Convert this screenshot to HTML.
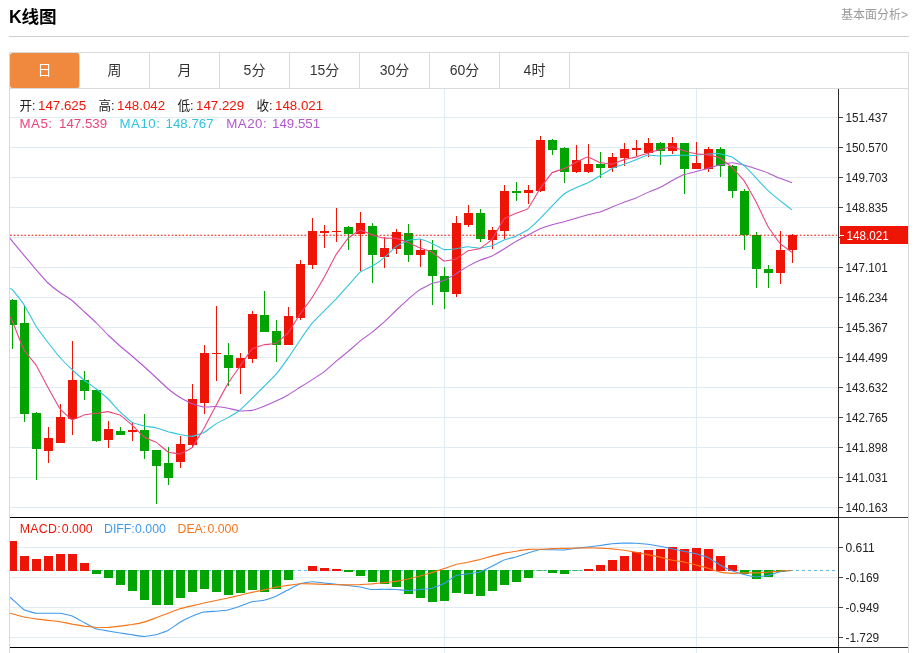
<!DOCTYPE html>
<html lang="zh-CN"><head><meta charset="utf-8"><title>K线图</title>
<style>
html,body{margin:0;padding:0;background:#fff}
body{width:920px;height:653px;position:relative;overflow:hidden;font-family:"Liberation Sans","Noto Sans CJK SC",sans-serif;color:#222}
.title{position:absolute;left:9px;top:4.5px;font-size:17.6px;line-height:24px;font-weight:bold;color:#000;letter-spacing:-0.1px}
.more{position:absolute;right:12px;top:6px;font-size:12px;line-height:18px;color:#999}
.hr{position:absolute;left:9px;top:36px;width:900px;height:1px;background:#cfcfcf}
.box{position:absolute;left:9px;top:52px;width:898px;height:620px;border:1px solid #dadada;border-bottom:none;box-sizing:content-box}
.tabs{position:absolute;left:10px;top:53px;width:898px;height:35px;border-bottom:1px solid #dadada;display:flex}
.tab{width:69px;height:35px;border-right:1px solid #dadada;text-align:center;font-size:14px;line-height:35.6px;color:#333}
.tab.on{background:#f0883e;color:#fff;border-radius:2.5px}
.info{position:absolute;left:19.5px;white-space:nowrap;font-size:13.3px;line-height:16px}
.info span{display:inline-block}
.info.abs span{position:absolute;top:0}
.info.m{font-size:12.3px}
.cj{font-size:12.6px}
.r{color:#ee1506}
</style></head><body>
<div class="title">K线图</div>
<div class="more">基本面分析&gt;</div>
<div class="hr"></div>
<div class="box"></div>
<div class="tabs"><div class="tab on">日</div><div class="tab">周</div><div class="tab">月</div><div class="tab">5分</div><div class="tab">15分</div><div class="tab">30分</div><div class="tab">60分</div><div class="tab">4时</div></div>
<svg width="920" height="653" viewBox="0 0 920 653" style="position:absolute;left:0;top:0">
<defs><clipPath id="cp"><rect x="10" y="89" width="828" height="564"/></clipPath></defs>
<g shape-rendering="crispEdges"><rect x="10" y="117" width="828" height="1" fill="#e1ebf2"/><rect x="10" y="147" width="828" height="1" fill="#e1ebf2"/><rect x="10" y="177" width="828" height="1" fill="#e1ebf2"/><rect x="10" y="207" width="828" height="1" fill="#e1ebf2"/><rect x="10" y="237" width="828" height="1" fill="#e1ebf2"/><rect x="10" y="267" width="828" height="1" fill="#e1ebf2"/><rect x="10" y="297" width="828" height="1" fill="#e1ebf2"/><rect x="10" y="327" width="828" height="1" fill="#e1ebf2"/><rect x="10" y="357" width="828" height="1" fill="#e1ebf2"/><rect x="10" y="387" width="828" height="1" fill="#e1ebf2"/><rect x="10" y="417" width="828" height="1" fill="#e1ebf2"/><rect x="10" y="447" width="828" height="1" fill="#e1ebf2"/><rect x="10" y="477" width="828" height="1" fill="#e1ebf2"/><rect x="10" y="507" width="828" height="1" fill="#e1ebf2"/><rect x="10" y="547" width="828" height="1" fill="#e1ebf2"/><rect x="10" y="577" width="828" height="1" fill="#e1ebf2"/><rect x="10" y="607" width="828" height="1" fill="#e1ebf2"/><rect x="10" y="637" width="828" height="1" fill="#e1ebf2"/><rect x="444" y="89" width="1" height="564" fill="#e1ebf2"/><rect x="696" y="89" width="1" height="564" fill="#e1ebf2"/><rect x="9" y="89" width="1" height="564" fill="#dadada"/></g>
<g shape-rendering="crispEdges" clip-path="url(#cp)"><rect x="12" y="299" width="1" height="50" fill="#02a402"/><rect x="8" y="300" width="9" height="25" fill="#02a402"/><rect x="24" y="305" width="1" height="117" fill="#02a402"/><rect x="20" y="323" width="9" height="91" fill="#02a402"/><rect x="36" y="412" width="1" height="68" fill="#02a402"/><rect x="32" y="413" width="9" height="36" fill="#02a402"/><rect x="48" y="427" width="1" height="36" fill="#ee1506"/><rect x="44" y="438" width="9" height="13" fill="#ee1506"/><rect x="60" y="404" width="1" height="39" fill="#ee1506"/><rect x="56" y="417" width="9" height="26" fill="#ee1506"/><rect x="72" y="341" width="1" height="94" fill="#ee1506"/><rect x="68" y="380" width="9" height="39" fill="#ee1506"/><rect x="84" y="371" width="1" height="29" fill="#02a402"/><rect x="80" y="380" width="9" height="11" fill="#02a402"/><rect x="96" y="390" width="1" height="52" fill="#02a402"/><rect x="92" y="390" width="9" height="51" fill="#02a402"/><rect x="108" y="421" width="1" height="27" fill="#ee1506"/><rect x="104" y="429" width="9" height="11" fill="#ee1506"/><rect x="120" y="427" width="1" height="8" fill="#02a402"/><rect x="116" y="431" width="9" height="4" fill="#02a402"/><rect x="132" y="422" width="1" height="19" fill="#ee1506"/><rect x="128" y="430" width="9" height="2" fill="#ee1506"/><rect x="144" y="414" width="1" height="45" fill="#02a402"/><rect x="140" y="430" width="9" height="21" fill="#02a402"/><rect x="156" y="450" width="1" height="54" fill="#02a402"/><rect x="152" y="450" width="9" height="16" fill="#02a402"/><rect x="168" y="447" width="1" height="38" fill="#02a402"/><rect x="164" y="463" width="9" height="15" fill="#02a402"/><rect x="180" y="436" width="1" height="32" fill="#ee1506"/><rect x="176" y="444" width="9" height="18" fill="#ee1506"/><rect x="192" y="384" width="1" height="64" fill="#ee1506"/><rect x="188" y="399" width="9" height="46" fill="#ee1506"/><rect x="204" y="345" width="1" height="69" fill="#ee1506"/><rect x="200" y="353" width="9" height="50" fill="#ee1506"/><rect x="216" y="306" width="1" height="75" fill="#ee1506"/><rect x="212" y="353" width="9" height="1" fill="#ee1506"/><rect x="228" y="343" width="1" height="43" fill="#02a402"/><rect x="224" y="355" width="9" height="13" fill="#02a402"/><rect x="240" y="353" width="1" height="41" fill="#ee1506"/><rect x="236" y="358" width="9" height="10" fill="#ee1506"/><rect x="252" y="311" width="1" height="52" fill="#ee1506"/><rect x="248" y="314" width="9" height="45" fill="#ee1506"/><rect x="264" y="291" width="1" height="41" fill="#02a402"/><rect x="260" y="315" width="9" height="17" fill="#02a402"/><rect x="276" y="320" width="1" height="42" fill="#02a402"/><rect x="272" y="331" width="9" height="14" fill="#02a402"/><rect x="288" y="307" width="1" height="38" fill="#ee1506"/><rect x="284" y="316" width="9" height="29" fill="#ee1506"/><rect x="300" y="260" width="1" height="60" fill="#ee1506"/><rect x="296" y="264" width="9" height="54" fill="#ee1506"/><rect x="312" y="218" width="1" height="51" fill="#ee1506"/><rect x="308" y="231" width="9" height="34" fill="#ee1506"/><rect x="324" y="225" width="1" height="23" fill="#ee1506"/><rect x="320" y="231" width="9" height="2" fill="#ee1506"/><rect x="336" y="208" width="1" height="34" fill="#ee1506"/><rect x="332" y="231" width="9" height="1" fill="#ee1506"/><rect x="348" y="226" width="1" height="24" fill="#02a402"/><rect x="344" y="227" width="9" height="7" fill="#02a402"/><rect x="360" y="212" width="1" height="59" fill="#ee1506"/><rect x="356" y="223" width="9" height="11" fill="#ee1506"/><rect x="372" y="223" width="1" height="60" fill="#02a402"/><rect x="368" y="226" width="9" height="29" fill="#02a402"/><rect x="384" y="237" width="1" height="31" fill="#ee1506"/><rect x="380" y="248" width="9" height="9" fill="#ee1506"/><rect x="396" y="229" width="1" height="25" fill="#ee1506"/><rect x="392" y="232" width="9" height="17" fill="#ee1506"/><rect x="408" y="224" width="1" height="38" fill="#02a402"/><rect x="404" y="233" width="9" height="22" fill="#02a402"/><rect x="420" y="239" width="1" height="28" fill="#ee1506"/><rect x="416" y="250" width="9" height="5" fill="#ee1506"/><rect x="432" y="240" width="1" height="65" fill="#02a402"/><rect x="428" y="250" width="9" height="26" fill="#02a402"/><rect x="444" y="267" width="1" height="42" fill="#02a402"/><rect x="440" y="276" width="9" height="16" fill="#02a402"/><rect x="456" y="216" width="1" height="81" fill="#ee1506"/><rect x="452" y="223" width="9" height="71" fill="#ee1506"/><rect x="468" y="205" width="1" height="22" fill="#ee1506"/><rect x="464" y="213" width="9" height="12" fill="#ee1506"/><rect x="480" y="209" width="1" height="33" fill="#02a402"/><rect x="476" y="213" width="9" height="26" fill="#02a402"/><rect x="492" y="227" width="1" height="22" fill="#ee1506"/><rect x="488" y="230" width="9" height="10" fill="#ee1506"/><rect x="504" y="185" width="1" height="54" fill="#ee1506"/><rect x="500" y="191" width="9" height="40" fill="#ee1506"/><rect x="516" y="182" width="1" height="19" fill="#02a402"/><rect x="512" y="191" width="9" height="2" fill="#02a402"/><rect x="528" y="185" width="1" height="19" fill="#ee1506"/><rect x="524" y="190" width="9" height="3" fill="#ee1506"/><rect x="540" y="136" width="1" height="56" fill="#ee1506"/><rect x="536" y="140" width="9" height="51" fill="#ee1506"/><rect x="552" y="139" width="1" height="16" fill="#02a402"/><rect x="548" y="140" width="9" height="10" fill="#02a402"/><rect x="564" y="147" width="1" height="36" fill="#02a402"/><rect x="560" y="148" width="9" height="24" fill="#02a402"/><rect x="576" y="145" width="1" height="28" fill="#ee1506"/><rect x="572" y="160" width="9" height="12" fill="#ee1506"/><rect x="588" y="144" width="1" height="29" fill="#ee1506"/><rect x="584" y="164" width="9" height="8" fill="#ee1506"/><rect x="600" y="152" width="1" height="26" fill="#02a402"/><rect x="596" y="164" width="9" height="4" fill="#02a402"/><rect x="612" y="153" width="1" height="19" fill="#ee1506"/><rect x="608" y="157" width="9" height="11" fill="#ee1506"/><rect x="624" y="143" width="1" height="23" fill="#ee1506"/><rect x="620" y="149" width="9" height="9" fill="#ee1506"/><rect x="636" y="140" width="1" height="16" fill="#ee1506"/><rect x="632" y="148" width="9" height="2" fill="#ee1506"/><rect x="648" y="138" width="1" height="19" fill="#ee1506"/><rect x="644" y="143" width="9" height="10" fill="#ee1506"/><rect x="660" y="142" width="1" height="23" fill="#02a402"/><rect x="656" y="143" width="9" height="8" fill="#02a402"/><rect x="672" y="137" width="1" height="17" fill="#ee1506"/><rect x="668" y="143" width="9" height="8" fill="#ee1506"/><rect x="684" y="143" width="1" height="51" fill="#02a402"/><rect x="680" y="143" width="9" height="26" fill="#02a402"/><rect x="696" y="142" width="1" height="27" fill="#ee1506"/><rect x="692" y="163" width="9" height="6" fill="#ee1506"/><rect x="708" y="147" width="1" height="25" fill="#ee1506"/><rect x="704" y="149" width="9" height="20" fill="#ee1506"/><rect x="720" y="147" width="1" height="30" fill="#02a402"/><rect x="716" y="149" width="9" height="17" fill="#02a402"/><rect x="732" y="165" width="1" height="33" fill="#02a402"/><rect x="728" y="166" width="9" height="25" fill="#02a402"/><rect x="744" y="189" width="1" height="61" fill="#02a402"/><rect x="740" y="191" width="9" height="44" fill="#02a402"/><rect x="756" y="232" width="1" height="56" fill="#02a402"/><rect x="752" y="235" width="9" height="34" fill="#02a402"/><rect x="768" y="265" width="1" height="23" fill="#02a402"/><rect x="764" y="269" width="9" height="4" fill="#02a402"/><rect x="780" y="231" width="1" height="53" fill="#ee1506"/><rect x="776" y="250" width="9" height="23" fill="#ee1506"/><rect x="792" y="234" width="1" height="29" fill="#ee1506"/><rect x="788" y="235" width="9" height="15" fill="#ee1506"/></g>
<line x1="10" y1="235.2" x2="837" y2="235.2" stroke="#ee1506" stroke-width="1.15" stroke-dasharray="1.8 1.79"/>
<g clip-path="url(#cp)">
<path d="M0.00 226.30C0.40 226.78 11.20 239.83 12.00 240.80C12.80 241.77 23.20 254.34 24.00 255.30C24.80 256.26 35.20 268.68 36.00 269.60C36.80 270.52 47.20 282.24 48.00 283.00C48.80 283.76 59.20 291.92 60.00 292.50C60.80 293.08 71.20 299.87 72.00 300.50C72.80 301.13 83.20 310.77 84.00 311.50C84.80 312.23 95.20 321.72 96.00 322.50C96.80 323.28 107.20 334.22 108.00 335.00C108.80 335.78 119.20 345.30 120.00 346.00C120.80 346.70 131.20 355.32 132.00 356.00C132.80 356.68 143.20 365.78 144.00 366.50C144.80 367.22 155.20 376.76 156.00 377.50C156.80 378.24 167.20 388.08 168.00 388.75C168.80 389.42 179.20 397.00 180.00 397.50C180.80 398.00 191.20 403.43 192.00 403.75C192.80 404.07 203.20 406.91 204.00 407.00C204.80 407.09 215.20 406.46 216.00 406.50C216.80 406.54 227.20 408.10 228.00 408.25C228.80 408.40 239.20 410.88 240.00 410.96C240.80 411.03 251.20 410.55 252.00 410.39C252.80 410.24 263.20 406.59 264.00 406.28C264.80 405.97 275.20 401.44 276.00 401.07C276.80 400.69 287.20 395.43 288.00 394.97C288.80 394.51 299.20 387.83 300.00 387.33C300.80 386.82 311.20 380.39 312.00 379.88C312.80 379.36 323.20 372.53 324.00 371.91C324.80 371.30 335.20 362.11 336.00 361.44C336.80 360.76 347.20 352.32 348.00 351.64C348.80 350.96 359.20 341.73 360.00 341.09C360.80 340.44 371.20 332.94 372.00 332.31C372.80 331.68 383.20 322.90 384.00 322.18C384.80 321.45 395.20 311.25 396.00 310.49C396.80 309.73 407.20 300.00 408.00 299.30C408.80 298.60 419.20 290.12 420.00 289.59C420.80 289.06 431.20 283.74 432.00 283.44C432.80 283.13 443.20 280.69 444.00 280.38C444.80 280.06 455.20 274.35 456.00 273.88C456.80 273.40 467.20 266.61 468.00 266.15C468.80 265.69 479.20 260.51 480.00 260.18C480.80 259.84 491.20 256.37 492.00 256.00C492.80 255.63 503.20 249.45 504.00 248.96C504.80 248.47 515.20 241.84 516.00 241.38C516.80 240.91 527.20 235.49 528.00 235.07C528.80 234.66 539.20 229.19 540.00 228.85C540.80 228.51 551.20 225.00 552.00 224.76C552.80 224.53 563.20 221.99 564.00 221.78C564.80 221.56 575.20 218.48 576.00 218.25C576.80 218.02 587.20 214.97 588.00 214.76C588.80 214.55 599.20 212.22 600.00 211.97C600.80 211.71 611.20 207.43 612.00 207.11C612.80 206.78 623.20 202.46 624.00 202.16C624.80 201.85 635.20 198.27 636.00 197.94C636.80 197.62 647.20 192.73 648.00 192.38C648.80 192.03 659.20 187.78 660.00 187.39C660.80 187.00 671.20 181.18 672.00 180.75C672.80 180.33 683.20 174.90 684.00 174.60C684.80 174.29 695.20 171.80 696.00 171.60C696.80 171.39 707.20 168.63 708.00 168.40C708.80 168.17 719.20 164.94 720.00 164.75C720.80 164.56 731.20 162.75 732.00 162.76C732.80 162.77 743.20 164.76 744.00 164.96C744.80 165.16 755.20 168.47 756.00 168.73C756.80 169.00 767.20 172.56 768.00 172.88C768.80 173.21 779.20 178.05 780.00 178.37C780.80 178.70 791.60 182.51 792.00 182.66" fill="none" stroke="#b257cf" stroke-width="1.08" stroke-linejoin="round"/>
<path d="M0.00 287.30C0.40 287.36 11.20 288.62 12.00 289.20C12.80 289.78 23.20 303.46 24.00 304.70C24.80 305.94 35.20 324.99 36.00 326.25C36.80 327.51 47.20 341.46 48.00 342.50C48.80 343.54 59.20 356.60 60.00 357.50C60.80 358.40 71.20 368.75 72.00 369.50C72.80 370.25 83.20 379.36 84.00 380.00C84.80 380.64 95.20 388.12 96.00 388.75C96.80 389.38 107.20 397.98 108.00 398.75C108.80 399.52 119.20 411.10 120.00 411.89C120.80 412.67 131.20 421.91 132.00 422.39C132.80 422.86 143.20 425.88 144.00 426.06C144.80 426.24 155.20 427.55 156.00 427.74C156.80 427.93 167.20 431.54 168.00 431.76C168.80 431.98 179.20 434.33 180.00 434.48C180.80 434.63 191.20 436.41 192.00 436.35C192.80 436.29 203.20 433.02 204.00 432.60C204.80 432.18 215.20 424.35 216.00 423.85C216.80 423.35 227.20 418.11 228.00 417.65C228.80 417.19 239.20 410.67 240.00 410.02C240.80 409.38 251.20 399.18 252.00 398.40C252.80 397.62 263.20 387.30 264.00 386.50C264.80 385.70 275.20 375.34 276.00 374.40C276.80 373.46 287.20 359.32 288.00 358.18C288.80 357.03 299.20 341.33 300.00 340.18C300.80 339.02 311.20 324.36 312.00 323.40C312.80 322.44 323.20 312.04 324.00 311.23C324.80 310.41 335.20 299.88 336.00 299.02C336.80 298.17 347.20 286.53 348.00 285.63C348.80 284.74 359.20 272.80 360.00 272.15C360.80 271.50 371.20 266.70 372.00 266.23C372.80 265.75 383.20 258.50 384.00 257.85C384.80 257.20 395.20 247.16 396.00 246.57C396.80 245.99 407.20 240.68 408.00 240.43C408.80 240.17 419.20 238.90 420.00 239.00C420.80 239.10 431.20 243.12 432.00 243.47C432.80 243.83 443.20 249.35 444.00 249.53C444.80 249.70 455.20 248.82 456.00 248.72C456.80 248.63 467.20 246.68 468.00 246.67C468.80 246.65 479.20 248.23 480.00 248.20C480.80 248.17 491.20 246.05 492.00 245.78C492.80 245.50 503.20 240.39 504.00 240.07C504.80 239.75 515.20 236.52 516.00 236.18C516.80 235.83 527.20 230.31 528.00 229.72C528.80 229.14 539.20 219.49 540.00 218.70C540.80 217.91 551.20 206.87 552.00 206.05C552.80 205.23 563.20 194.63 564.00 194.03C564.80 193.42 575.20 188.15 576.00 187.78C576.80 187.40 587.20 183.25 588.00 182.85C588.80 182.45 599.20 176.22 600.00 175.73C600.80 175.25 611.20 168.82 612.00 168.44C612.80 168.05 623.20 164.53 624.00 164.23C624.80 163.94 635.20 160.02 636.00 159.71C636.80 159.40 647.20 155.16 648.00 155.03C648.80 154.91 659.20 156.07 660.00 156.08C660.80 156.10 671.20 155.49 672.00 155.46C672.80 155.43 683.20 155.17 684.00 155.17C684.80 155.17 695.20 155.46 696.00 155.42C696.80 155.38 707.20 154.00 708.00 153.94C708.80 153.89 719.20 153.66 720.00 153.76C720.80 153.86 731.20 156.69 732.00 157.08C732.80 157.48 743.20 165.00 744.00 165.69C744.80 166.37 755.20 176.92 756.00 177.76C756.80 178.59 767.20 189.97 768.00 190.73C768.80 191.50 779.20 200.02 780.00 200.66C780.80 201.30 791.60 209.55 792.00 209.85" fill="none" stroke="#2fc3df" stroke-width="1.08" stroke-linejoin="round"/>
<path d="M0.00 300.00C0.40 300.68 11.20 318.83 12.00 320.50C12.80 322.17 23.20 348.52 24.00 350.00C24.80 351.48 35.20 363.75 36.00 365.00C36.80 366.25 47.20 386.04 48.00 387.50C48.80 388.96 59.20 407.63 60.00 408.71C60.80 409.79 71.20 419.56 72.00 419.77C72.80 419.98 83.20 415.28 84.00 415.07C84.80 414.86 95.20 413.44 96.00 413.32C96.80 413.20 107.20 411.56 108.00 411.62C108.80 411.68 119.20 414.61 120.00 415.06C120.80 415.51 131.20 424.27 132.00 425.00C132.80 425.73 143.20 436.48 144.00 437.05C144.80 437.62 155.20 441.65 156.00 442.15C156.80 442.64 167.20 451.51 168.00 451.90C168.80 452.29 179.20 454.04 180.00 453.90C180.80 453.76 191.20 448.56 192.00 447.70C192.80 446.84 203.20 429.55 204.00 428.15C204.80 426.75 215.20 407.04 216.00 405.55C216.80 404.06 227.20 384.71 228.00 383.40C228.80 382.09 239.20 367.29 240.00 366.15C240.80 365.01 251.20 349.81 252.00 349.10C252.80 348.39 263.20 345.05 264.00 344.85C264.80 344.66 275.20 343.65 276.00 343.25C276.80 342.85 287.20 333.92 288.00 332.95C288.80 331.98 299.20 315.38 300.00 314.20C300.80 313.02 311.20 298.92 312.00 297.70C312.80 296.48 323.20 279.03 324.00 277.60C324.80 276.17 335.20 256.11 336.00 254.80C336.80 253.49 347.20 239.14 348.00 238.32C348.80 237.50 359.20 230.22 360.00 230.10C360.80 229.98 371.20 234.48 372.00 234.75C372.80 235.02 383.20 237.98 384.00 238.10C384.80 238.22 395.20 238.20 396.00 238.35C396.80 238.50 407.20 242.21 408.00 242.53C408.80 242.85 419.20 247.58 420.00 247.90C420.80 248.22 431.20 251.76 432.00 252.20C432.80 252.63 443.20 260.72 444.00 260.95C444.80 261.18 455.20 259.44 456.00 259.10C456.80 258.76 467.20 251.15 468.00 250.80C468.80 250.45 479.20 248.88 480.00 248.50C480.80 248.12 491.20 240.33 492.00 239.35C492.80 238.37 503.20 220.07 504.00 219.20C504.80 218.33 515.20 213.60 516.00 213.25C516.80 212.90 527.20 209.46 528.00 208.65C528.80 207.84 539.20 190.10 540.00 188.90C540.80 187.70 551.20 173.42 552.00 172.75C552.80 172.08 563.20 169.20 564.00 168.85C564.80 168.50 575.20 162.69 576.00 162.30C576.80 161.91 587.20 157.04 588.00 157.05C588.80 157.06 599.20 162.33 600.00 162.57C600.80 162.81 611.20 164.22 612.00 164.12C612.80 164.02 623.20 159.85 624.00 159.62C624.80 159.39 635.20 157.34 636.00 157.12C636.80 156.90 647.20 153.27 648.00 153.02C648.80 152.77 659.20 149.81 660.00 149.60C660.80 149.39 671.20 146.76 672.00 146.80C672.80 146.84 683.20 150.49 684.00 150.72C684.80 150.95 695.20 153.58 696.00 153.72C696.80 153.86 707.20 154.73 708.00 154.87C708.80 155.01 719.20 157.50 720.00 157.92C720.80 158.34 731.20 166.61 732.00 167.37C732.80 168.13 743.20 179.50 744.00 180.65C744.80 181.80 755.20 200.27 756.00 201.80C756.80 203.33 767.20 225.21 768.00 226.60C768.80 227.99 779.20 242.54 780.00 243.40C780.80 244.26 791.60 252.04 792.00 252.34" fill="none" stroke="#e9457c" stroke-width="1.08" stroke-linejoin="round"/>
</g>
<line x1="10" y1="570.5" x2="836" y2="570.5" stroke="#5bbbe7" stroke-width="1" stroke-dasharray="3 3"/>
<g shape-rendering="crispEdges" clip-path="url(#cp)"><rect x="8" y="541" width="9" height="30" fill="#ee1506"/><rect x="20" y="556" width="9" height="15" fill="#ee1506"/><rect x="32" y="559" width="9" height="12" fill="#ee1506"/><rect x="44" y="556" width="9" height="15" fill="#ee1506"/><rect x="56" y="554" width="9" height="17" fill="#ee1506"/><rect x="68" y="554" width="9" height="17" fill="#ee1506"/><rect x="80" y="563" width="9" height="8" fill="#ee1506"/><rect x="92" y="570" width="9" height="4" fill="#02a402"/><rect x="104" y="570" width="9" height="8" fill="#02a402"/><rect x="116" y="570" width="9" height="15" fill="#02a402"/><rect x="128" y="570" width="9" height="21" fill="#02a402"/><rect x="140" y="570" width="9" height="30" fill="#02a402"/><rect x="152" y="570" width="9" height="35" fill="#02a402"/><rect x="164" y="570" width="9" height="35" fill="#02a402"/><rect x="176" y="570" width="9" height="28" fill="#02a402"/><rect x="188" y="570" width="9" height="22" fill="#02a402"/><rect x="200" y="570" width="9" height="19" fill="#02a402"/><rect x="212" y="570" width="9" height="22" fill="#02a402"/><rect x="224" y="570" width="9" height="25" fill="#02a402"/><rect x="236" y="570" width="9" height="23" fill="#02a402"/><rect x="248" y="570" width="9" height="20" fill="#02a402"/><rect x="260" y="570" width="9" height="22" fill="#02a402"/><rect x="272" y="570" width="9" height="19" fill="#02a402"/><rect x="284" y="570" width="9" height="10" fill="#02a402"/><rect x="308" y="566" width="9" height="5" fill="#ee1506"/><rect x="320" y="568" width="9" height="3" fill="#ee1506"/><rect x="332" y="569" width="9" height="2" fill="#ee1506"/><rect x="344" y="570" width="9" height="2" fill="#02a402"/><rect x="356" y="570" width="9" height="6" fill="#02a402"/><rect x="368" y="570" width="9" height="12" fill="#02a402"/><rect x="380" y="570" width="9" height="14" fill="#02a402"/><rect x="392" y="570" width="9" height="17" fill="#02a402"/><rect x="404" y="570" width="9" height="24" fill="#02a402"/><rect x="416" y="570" width="9" height="28" fill="#02a402"/><rect x="428" y="570" width="9" height="32" fill="#02a402"/><rect x="440" y="570" width="9" height="31" fill="#02a402"/><rect x="452" y="570" width="9" height="23" fill="#02a402"/><rect x="464" y="570" width="9" height="24" fill="#02a402"/><rect x="476" y="570" width="9" height="26" fill="#02a402"/><rect x="488" y="570" width="9" height="21" fill="#02a402"/><rect x="500" y="570" width="9" height="15" fill="#02a402"/><rect x="512" y="570" width="9" height="12" fill="#02a402"/><rect x="524" y="570" width="9" height="8" fill="#02a402"/><rect x="536" y="570" width="9" height="1" fill="#02a402" fill-opacity="0.55"/><rect x="548" y="570" width="9" height="3" fill="#02a402"/><rect x="560" y="570" width="9" height="4" fill="#02a402"/><rect x="572" y="570" width="9" height="1" fill="#02a402" fill-opacity="0.55"/><rect x="584" y="569" width="9" height="2" fill="#ee1506"/><rect x="596" y="565" width="9" height="6" fill="#ee1506"/><rect x="608" y="560" width="9" height="11" fill="#ee1506"/><rect x="620" y="556" width="9" height="15" fill="#ee1506"/><rect x="632" y="552" width="9" height="19" fill="#ee1506"/><rect x="644" y="550" width="9" height="21" fill="#ee1506"/><rect x="656" y="549" width="9" height="22" fill="#ee1506"/><rect x="668" y="547" width="9" height="24" fill="#ee1506"/><rect x="680" y="549" width="9" height="22" fill="#ee1506"/><rect x="692" y="548" width="9" height="23" fill="#ee1506"/><rect x="704" y="549" width="9" height="22" fill="#ee1506"/><rect x="716" y="556" width="9" height="15" fill="#ee1506"/><rect x="728" y="565" width="9" height="6" fill="#ee1506"/><rect x="740" y="570" width="9" height="4" fill="#02a402"/><rect x="752" y="570" width="9" height="9" fill="#02a402"/><rect x="764" y="570" width="9" height="7" fill="#02a402"/><rect x="776" y="570" width="9" height="2" fill="#02a402"/></g>
<g clip-path="url(#cp)">
<path d="M0.00 588.30C0.40 588.66 11.20 598.29 12.00 599.00C12.80 599.71 23.20 609.23 24.00 609.70C24.80 610.18 35.20 613.13 36.00 613.25C36.80 613.37 47.20 613.25 48.00 613.25C48.80 613.25 59.20 613.21 60.00 613.30C60.80 613.39 71.20 615.70 72.00 616.00C72.80 616.30 83.20 621.97 84.00 622.40C84.80 622.83 95.20 628.51 96.00 628.80C96.80 629.09 107.20 630.86 108.00 631.00C108.80 631.14 119.20 632.87 120.00 633.00C120.80 633.13 131.20 634.68 132.00 634.80C132.80 634.92 143.20 636.50 144.00 636.50C144.80 636.50 155.20 635.00 156.00 634.80C156.80 634.60 167.20 630.82 168.00 630.40C168.80 629.98 179.20 622.77 180.00 622.30C180.80 621.83 191.20 616.59 192.00 616.25C192.80 615.91 203.20 612.17 204.00 612.00C204.80 611.83 215.20 611.27 216.00 611.20C216.80 611.13 227.20 610.16 228.00 610.00C228.80 609.84 239.20 606.52 240.00 606.25C240.80 605.98 251.20 601.95 252.00 601.75C252.80 601.55 263.20 600.43 264.00 600.25C264.80 600.07 275.20 596.59 276.00 596.25C276.80 595.91 287.20 590.42 288.00 590.00C288.80 589.58 299.20 584.02 300.00 583.75C300.80 583.48 311.20 581.77 312.00 581.75C312.80 581.73 323.20 582.92 324.00 583.00C324.80 583.08 335.20 584.17 336.00 584.25C336.80 584.33 347.20 585.41 348.00 585.50C348.80 585.59 359.20 586.87 360.00 587.00C360.80 587.13 371.20 589.42 372.00 589.50C372.80 589.58 383.20 589.25 384.00 589.25C384.80 589.25 395.20 589.46 396.00 589.50C396.80 589.54 407.20 590.50 408.00 590.50C408.80 590.50 419.20 589.58 420.00 589.50C420.80 589.42 431.20 588.45 432.00 588.25C432.80 588.05 443.20 584.02 444.00 583.60C444.80 583.18 455.20 575.83 456.00 575.50C456.80 575.17 467.20 573.87 468.00 573.75C468.80 573.63 479.20 572.25 480.00 572.00C480.80 571.75 491.20 566.65 492.00 566.25C492.80 565.85 503.20 560.31 504.00 560.00C504.80 559.69 515.20 557.23 516.00 557.00C516.80 556.77 527.20 553.25 528.00 553.00C528.80 552.75 539.20 549.61 540.00 549.50C540.80 549.39 551.20 549.73 552.00 549.75C552.80 549.77 563.20 550.05 564.00 550.00C564.80 549.95 575.20 548.35 576.00 548.25C576.80 548.15 587.20 547.09 588.00 547.00C588.80 546.91 599.20 545.61 600.00 545.50C600.80 545.39 611.20 543.83 612.00 543.75C612.80 543.67 623.20 543.02 624.00 543.00C624.80 542.98 635.20 543.21 636.00 543.25C636.80 543.29 647.20 544.15 648.00 544.25C648.80 544.35 659.20 546.10 660.00 546.25C660.80 546.40 671.20 548.58 672.00 548.75C672.80 548.92 683.20 551.08 684.00 551.25C684.80 551.42 695.20 553.54 696.00 553.75C696.80 553.96 707.20 557.12 708.00 557.50C708.80 557.88 719.20 564.56 720.00 565.00C720.80 565.44 731.20 570.43 732.00 570.75C732.80 571.07 743.20 574.29 744.00 574.50C744.80 574.71 755.20 576.97 756.00 577.00C756.80 577.03 767.20 575.67 768.00 575.50C768.80 575.33 779.20 571.92 780.00 571.75C780.80 571.58 791.60 570.54 792.00 570.50" fill="none" stroke="#3f99ee" stroke-width="1.1" stroke-linejoin="round"/>
<path d="M0.00 610.42C0.40 610.54 11.20 613.53 12.00 613.75C12.80 613.97 23.20 616.90 24.00 617.08C24.80 617.25 35.20 618.76 36.00 618.88C36.80 618.99 47.20 620.28 48.00 620.38C48.80 620.47 59.20 621.55 60.00 621.67C60.80 621.80 71.20 623.98 72.00 624.12C72.80 624.27 83.20 626.04 84.00 626.15C84.80 626.26 95.20 627.25 96.00 627.30C96.80 627.34 107.20 627.54 108.00 627.50C108.80 627.46 119.20 626.22 120.00 626.12C120.80 626.03 131.20 624.68 132.00 624.55C132.80 624.42 143.20 622.35 144.00 622.12C144.80 621.90 155.20 618.09 156.00 617.80C156.80 617.50 167.20 613.58 168.00 613.27C168.80 612.97 179.20 608.92 180.00 608.67C180.80 608.43 191.20 606.06 192.00 605.88C192.80 605.69 203.20 603.18 204.00 603.00C204.80 602.82 215.20 600.74 216.00 600.58C216.80 600.41 227.20 598.18 228.00 598.00C228.80 597.82 239.20 595.44 240.00 595.25C240.80 595.06 251.20 592.55 252.00 592.38C252.80 592.20 263.20 590.05 264.00 589.88C264.80 589.70 275.20 587.27 276.00 587.12C276.80 586.98 287.20 585.49 288.00 585.38C288.80 585.26 299.20 583.80 300.00 583.75C300.80 583.70 311.20 583.83 312.00 583.85C312.80 583.87 323.20 584.32 324.00 584.35C324.80 584.38 335.20 584.73 336.00 584.75C336.80 584.77 347.20 584.88 348.00 584.88C348.80 584.87 359.20 584.66 360.00 584.62C360.80 584.59 371.20 583.94 372.00 583.88C372.80 583.81 383.20 582.71 384.00 582.62C384.80 582.54 395.20 581.50 396.00 581.38C396.80 581.25 407.20 579.18 408.00 579.00C408.80 578.82 419.20 576.21 420.00 576.00C420.80 575.79 431.20 572.87 432.00 572.62C432.80 572.38 443.20 568.87 444.00 568.60C444.80 568.33 455.20 564.71 456.00 564.50C456.80 564.29 467.20 562.42 468.00 562.25C468.80 562.08 479.20 559.70 480.00 559.50C480.80 559.30 491.20 556.34 492.00 556.12C492.80 555.91 503.20 553.29 504.00 553.12C504.80 552.96 515.20 551.38 516.00 551.25C516.80 551.12 527.20 549.44 528.00 549.38C528.80 549.31 539.20 549.27 540.00 549.25C540.80 549.23 551.20 548.65 552.00 548.62C552.80 548.60 563.20 548.39 564.00 548.38C564.80 548.36 575.20 548.07 576.00 548.05C576.80 548.03 587.20 547.87 588.00 547.88C588.80 547.88 599.20 548.09 600.00 548.12C600.80 548.16 611.20 548.80 612.00 548.88C612.80 548.95 623.20 550.14 624.00 550.25C624.80 550.36 635.20 552.10 636.00 552.25C636.80 552.40 647.20 554.46 648.00 554.62C648.80 554.79 659.20 556.94 660.00 557.12C660.80 557.31 671.20 560.09 672.00 560.25C672.80 560.41 683.20 561.84 684.00 562.00C684.80 562.16 695.20 564.79 696.00 565.00C696.80 565.21 707.20 568.01 708.00 568.25C708.80 568.49 719.20 571.95 720.00 572.12C720.80 572.30 731.20 573.35 732.00 573.38C732.80 573.40 743.20 572.89 744.00 572.88C744.80 572.86 755.20 572.90 756.00 572.88C756.80 572.85 767.20 572.31 768.00 572.25C768.80 572.19 779.20 571.06 780.00 571.00C780.80 570.94 791.60 570.52 792.00 570.50" fill="none" stroke="#f87419" stroke-width="1.1" stroke-linejoin="round"/>
</g>
<g shape-rendering="crispEdges" fill="#111"><rect x="838" y="89" width="1" height="564" fill="#2b2b2b"/><rect x="10" y="517" width="828" height="1" fill="#000"/><rect x="839" y="517" width="69" height="1" fill="#3a3a3a"/><rect x="10" y="647" width="828" height="1" fill="#000"/><rect x="839" y="647" width="69" height="1" fill="#3a3a3a"/><rect x="839" y="117" width="4" height="1" fill="#444"/><rect x="839" y="147" width="4" height="1" fill="#444"/><rect x="839" y="177" width="4" height="1" fill="#444"/><rect x="839" y="207" width="4" height="1" fill="#444"/><rect x="839" y="237" width="4" height="1" fill="#444"/><rect x="839" y="267" width="4" height="1" fill="#444"/><rect x="839" y="297" width="4" height="1" fill="#444"/><rect x="839" y="327" width="4" height="1" fill="#444"/><rect x="839" y="357" width="4" height="1" fill="#444"/><rect x="839" y="387" width="4" height="1" fill="#444"/><rect x="839" y="417" width="4" height="1" fill="#444"/><rect x="839" y="447" width="4" height="1" fill="#444"/><rect x="839" y="477" width="4" height="1" fill="#444"/><rect x="839" y="507" width="4" height="1" fill="#444"/><rect x="839" y="547" width="4" height="1" fill="#444"/><rect x="839" y="577" width="4" height="1" fill="#444"/><rect x="839" y="607" width="4" height="1" fill="#444"/><rect x="839" y="637" width="4" height="1" fill="#444"/></g>
<g font-family="'Liberation Sans', sans-serif" font-size="13.6" fill="#222"><text x="845.5" y="121.6" textLength="42.2" lengthAdjust="spacingAndGlyphs">151.437</text><text x="845.5" y="151.6" textLength="42.2" lengthAdjust="spacingAndGlyphs">150.570</text><text x="845.5" y="181.6" textLength="42.2" lengthAdjust="spacingAndGlyphs">149.703</text><text x="845.5" y="211.6" textLength="42.2" lengthAdjust="spacingAndGlyphs">148.835</text><text x="845.5" y="271.6" textLength="42.2" lengthAdjust="spacingAndGlyphs">147.101</text><text x="845.5" y="301.6" textLength="42.2" lengthAdjust="spacingAndGlyphs">146.234</text><text x="845.5" y="331.6" textLength="42.2" lengthAdjust="spacingAndGlyphs">145.367</text><text x="845.5" y="361.6" textLength="42.2" lengthAdjust="spacingAndGlyphs">144.499</text><text x="845.5" y="391.6" textLength="42.2" lengthAdjust="spacingAndGlyphs">143.632</text><text x="845.5" y="421.6" textLength="42.2" lengthAdjust="spacingAndGlyphs">142.765</text><text x="845.5" y="451.6" textLength="42.2" lengthAdjust="spacingAndGlyphs">141.898</text><text x="845.5" y="481.6" textLength="42.2" lengthAdjust="spacingAndGlyphs">141.031</text><text x="845.5" y="511.6" textLength="42.2" lengthAdjust="spacingAndGlyphs">140.163</text><text x="845.5" y="551.6" textLength="29.3" lengthAdjust="spacingAndGlyphs">0.611</text><text x="845.5" y="581.6" textLength="33.7" lengthAdjust="spacingAndGlyphs">-0.169</text><text x="845.5" y="611.6" textLength="33.7" lengthAdjust="spacingAndGlyphs">-0.949</text><text x="845.5" y="641.6" textLength="33.7" lengthAdjust="spacingAndGlyphs">-1.729</text></g>
<rect x="840" y="226" width="68" height="18" fill="#ee1506" shape-rendering="crispEdges"/>
<rect x="840" y="235" width="4" height="1" fill="#fff" shape-rendering="crispEdges"/>
<text x="846.5" y="239.8" font-family="'Liberation Sans', sans-serif" font-size="13.6" fill="#fff" textLength="42.2" lengthAdjust="spacingAndGlyphs">148.021</text>
</svg>
<div class="info" style="top:97.5px"><span class="cj" style="width:18.5px">开:</span><span class="r" style="width:60.5px">147.625</span><span class="cj" style="width:18.5px">高:</span><span class="r" style="width:60.5px">148.042</span><span class="cj" style="width:18.5px">低:</span><span class="r" style="width:60.5px">147.229</span><span class="cj" style="width:18.5px">收:</span><span class="r">148.021</span></div>
<div class="info abs" style="top:115.5px;color:#e9457c"><span style="left:0;letter-spacing:0.5px">MA5:</span><span style="left:39.5px">147.539</span></div>
<div class="info abs" style="top:115.5px;color:#2fc3df"><span style="left:100px;letter-spacing:0.5px">MA10:</span><span style="left:146px">148.767</span></div>
<div class="info abs" style="top:115.5px;color:#b257cf"><span style="left:206.75px;letter-spacing:0.5px">MA20:</span><span style="left:252.5px">149.551</span></div>
<div class="info abs m" style="top:521px;color:#ee1506"><span style="left:0.3px;letter-spacing:0.3px">MACD:</span><span style="left:42.3px">0.000</span></div>
<div class="info abs m" style="top:521px;color:#3f99ee"><span style="left:84.5px">DIFF:</span><span style="left:115.6px">0.000</span></div>
<div class="info abs m" style="top:521px;color:#f87419"><span style="left:158px">DEA:</span><span style="left:188px">0.000</span></div>
</body></html>
